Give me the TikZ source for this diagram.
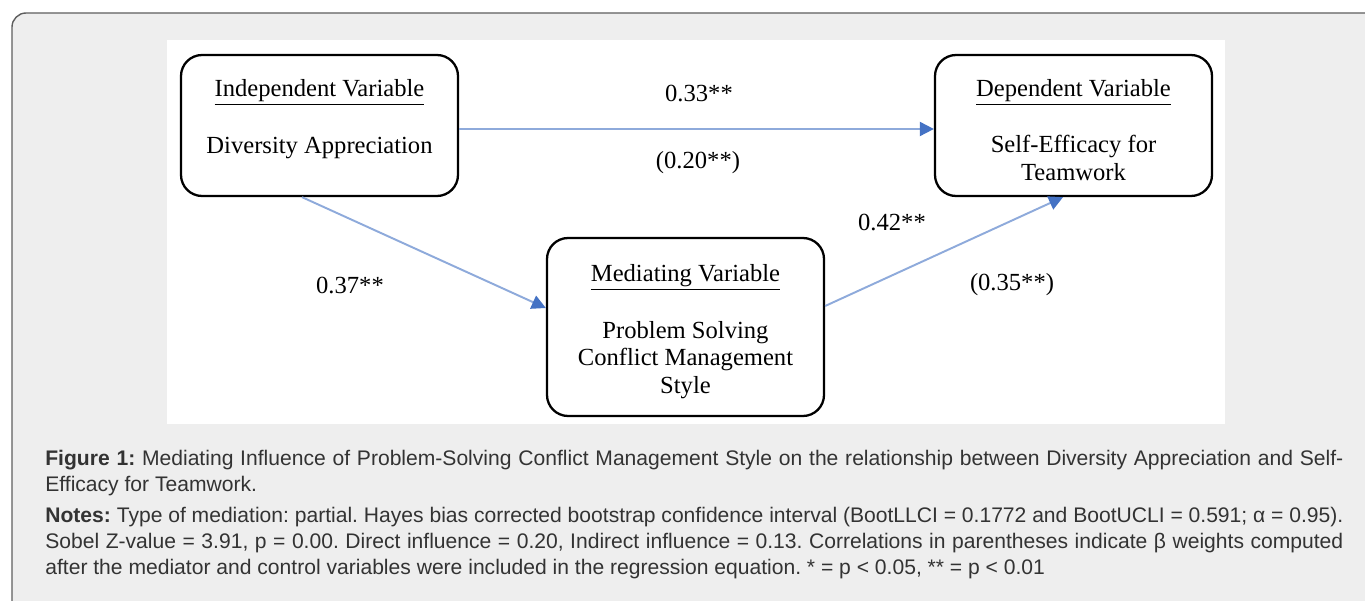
\documentclass[tikz,border=0pt]{standalone}
\usepackage{fontspec}
\setmainfont{Liberation Serif}
\setsansfont{Liberation Sans}
\usetikzlibrary{arrows.meta}

\definecolor{panelgray}{HTML}{EEEEEE}
\definecolor{framegray}{HTML}{5E5E5E}
\definecolor{capgray}{HTML}{333333}
\definecolor{pathblue}{HTML}{8EAADB}
\definecolor{tipblue}{HTML}{4472C4}

\newcommand{\topgap}{\rule{0pt}{15pt}}

\tikzset{
  var box/.style={draw=black, line width=1.3pt, rounded corners=12pt,
                  fill=white, align=center, inner sep=0pt,
                  minimum width=277*0.02cm, font=\fontsize{14}{15.7}\selectfont},
  path arrow/.style={draw=pathblue, line width=1.1pt,
                     -{Triangle[length=8pt,width=8pt,color=tipblue]}},
  coef/.style={font=\fontsize{14}{15.5}\selectfont, inner sep=0pt},
  cap text/.style={font=\sffamily\fontsize{12}{14.8}\selectfont, text=capgray,
                   text width=1298*0.02cm, align=justify, inner sep=0pt,
                   anchor=base west}
}

\begin{document}
\frenchspacing
\begin{tikzpicture}[x=0.02cm,y=-0.02cm]
  \useasboundingbox (0,0) rectangle (1365,601);
  % outer frame and white panel
  \draw[framegray, fill=panelgray, line width=0.8pt, rounded corners=8pt]
    (12,640) -- (12,13) -- (1400,13) -- (1400,640) -- cycle;
  \fill[white] (167,40) rectangle (1225,424);

  % variables
  \begin{scope}
    \node[var box, minimum height=141*0.02cm] (ivar) at (319.5,125.5)
      {\topgap\underline{Independent Variable}\\[16.4pt]Diversity Appreciation\\\mbox{}};
    \node[var box, minimum height=141*0.02cm] (dvar) at (1073.5,125.5)
      {\topgap\underline{Dependent Variable}\\[16.4pt]Self-Efficacy for\\Teamwork};
    \node[var box, minimum height=178*0.02cm] (mvar) at (685.5,327)
      {\topgap\underline{Mediating Variable}\\[16.4pt]Problem Solving\\Conflict Management\\Style};
  \end{scope}

  % paths
  \begin{scope}
    \draw[path arrow] (ivar.east |- 0,129) -- (dvar.west |- 0,129);
    \draw[path arrow] (ivar.south -| 302,0) -- (mvar.west |- 0,308);
    \draw[path arrow] (mvar.east |- 0,306) -- (dvar.south -| 1063,0);
  \end{scope}

  % coefficients
  \node[coef] (cdir)  at (699,93)  {0.33**};
  \node[coef] (cdirp) at (698,163) {(0.20**)};
  \node[coef] (ca)    at (350,285) {0.37**};
  \node[coef] (cb)    at (892,222) {0.42**};
  \node[coef] (cbp)   at (1012,285) {(0.35**)};

  % caption
  \node[cap text] (figcap) at (45,465)
    {\textbf{Figure 1:} Mediating Influence of Problem-Solving Conflict Management Style on the relationship between Diversity Appreciation and Self-\linebreak Efficacy for Teamwork.};
  \node[cap text] (notes) at (45,522)
    {\textbf{Notes:} Type of mediation: partial. Hayes bias corrected bootstrap confidence interval (BootLLCI = 0.1772 and BootUCLI = 0.591; α = 0.95).\linebreak Sobel Z-value = 3.91, p = 0.00. Direct influence = 0.20, Indirect influence = 0.13. Correlations in parentheses indicate β weights computed\linebreak after the mediator and control variables were included in the regression equation. * = p < 0.05, ** = p < 0.01};
\end{tikzpicture}
\end{document}
